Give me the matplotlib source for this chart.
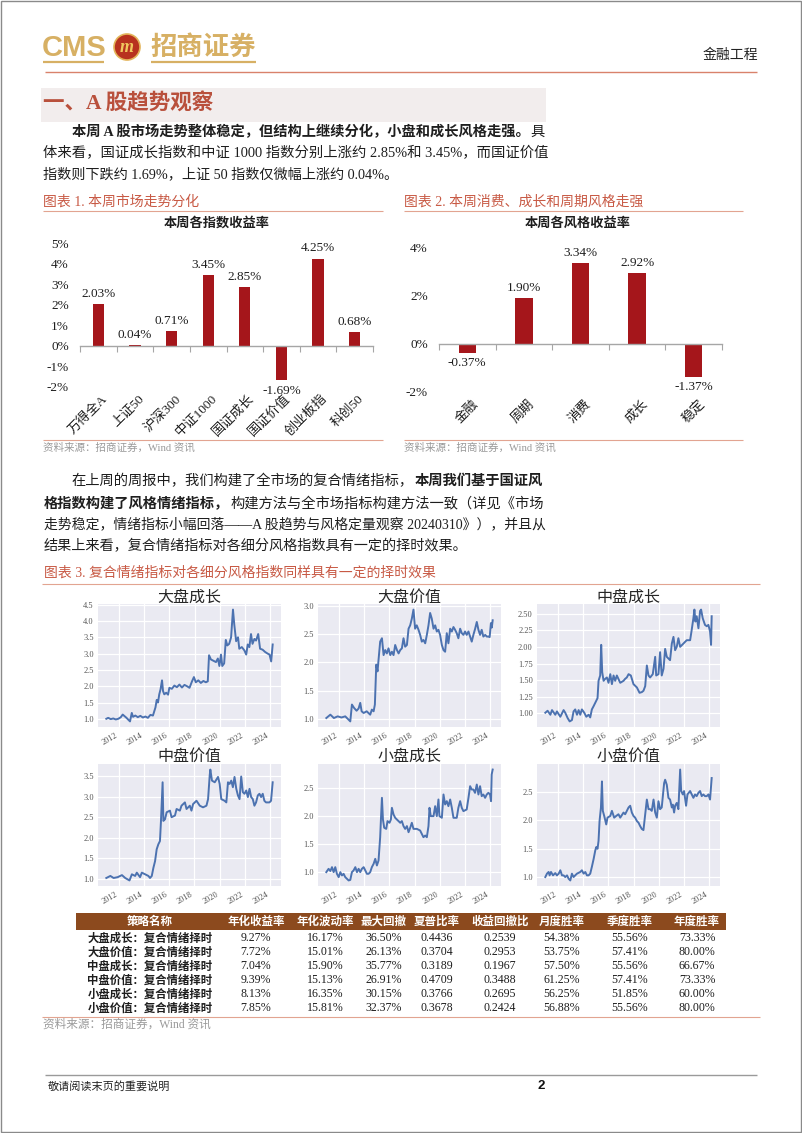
import matplotlib
matplotlib.use('Agg')
import matplotlib.pyplot as plt
from matplotlib.patches import Rectangle, Circle
from matplotlib.ticker import MultipleLocator, FuncFormatter
import matplotlib.transforms as mtransforms

# ---------------- data ----------------
idx_names = ['万得全A', '上证50', '沪深300', '中证1000', '国证成长', '国证价值', '创业板指', '科创50']
idx_returns = [2.03, 0.04, 0.71, 3.45, 2.85, -1.69, 4.25, 0.68]

style_names = ['金融', '周期', '消费', '成长', '稳定']
style_returns = [-0.37, 1.90, 3.34, 2.92, -1.37]

dapan_growth = [(2011.00, 1.00), (2011.15, 1.03), (2011.35, 0.99), (2011.55, 1.01), (2011.75, 0.98), (2011.95, 1.00),
                (2012.15, 1.05), (2012.30, 1.13), (2012.45, 1.08), (2012.60, 1.03), (2012.75, 0.97), (2012.88, 0.92),
                (2013.02, 1.18), (2013.12, 1.06), (2013.30, 1.10), (2013.50, 1.05), (2013.70, 1.09), (2013.90, 1.04),
                (2014.10, 1.07), (2014.30, 1.03), (2014.50, 1.12), (2014.70, 1.10), (2014.90, 1.35), (2015.00, 1.58),
                (2015.10, 1.50), (2015.20, 1.75), (2015.30, 1.90), (2015.42, 2.18), (2015.50, 1.85), (2015.60, 1.75),
                (2015.75, 1.80), (2015.90, 1.74), (2016.00, 1.95), (2016.20, 1.92), (2016.40, 2.02), (2016.60, 1.97),
                (2016.80, 2.05), (2017.00, 1.96), (2017.20, 2.04), (2017.40, 2.00), (2017.60, 1.95), (2017.80, 2.15),
                (2017.95, 2.28), (2018.10, 2.12), (2018.30, 2.18), (2018.50, 2.10), (2018.70, 2.16), (2018.90, 2.12),
                (2019.05, 2.15), (2019.15, 2.95), (2019.30, 2.82), (2019.50, 2.78), (2019.70, 2.74), (2019.85, 2.85),
                (2019.97, 2.62), (2020.10, 2.97), (2020.20, 2.62), (2020.35, 2.70), (2020.48, 3.42), (2020.60, 3.25),
                (2020.75, 3.30), (2020.90, 3.50), (2021.05, 4.35), (2021.15, 3.90), (2021.30, 3.38), (2021.45, 3.50),
                (2021.55, 3.15), (2021.75, 3.20), (2021.95, 3.10), (2022.10, 2.97), (2022.22, 3.28), (2022.35, 3.20),
                (2022.48, 3.60), (2022.60, 3.30), (2022.75, 3.45), (2022.88, 3.40), (2023.05, 3.60), (2023.20, 3.15),
                (2023.40, 3.12), (2023.60, 3.05), (2023.80, 3.00), (2023.95, 2.97), (2024.08, 2.76), (2024.20, 3.28)]

dapan_value = [(2011.00, 1.01), (2011.32, 1.07), (2011.60, 1.01), (2011.90, 1.04), (2012.20, 1.02), (2012.50, 1.04),
               (2012.77, 0.98), (2012.90, 0.95), (2013.03, 1.25), (2013.20, 1.19), (2013.40, 1.14), (2013.56, 1.18),
               (2013.69, 1.28), (2013.80, 1.13), (2013.96, 1.10), (2014.20, 1.13), (2014.48, 1.07), (2014.61, 1.16),
               (2014.75, 1.13), (2014.85, 1.25), (2014.96, 1.96), (2015.06, 1.84), (2015.15, 2.07), (2015.27, 2.37),
               (2015.41, 2.43), (2015.54, 2.13), (2015.67, 2.22), (2015.80, 2.16), (2015.93, 2.25), (2016.07, 2.13),
               (2016.20, 2.19), (2016.33, 2.13), (2016.46, 2.31), (2016.60, 2.22), (2016.73, 2.16), (2016.86, 2.22),
               (2016.99, 2.25), (2017.12, 2.43), (2017.25, 2.28), (2017.39, 2.31), (2017.52, 2.60), (2017.65, 2.66),
               (2017.78, 2.78), (2017.91, 2.94), (2018.04, 2.60), (2018.17, 2.66), (2018.31, 2.58), (2018.44, 2.49),
               (2018.57, 2.37), (2018.70, 2.40), (2018.84, 2.34), (2018.97, 2.49), (2019.10, 2.66), (2019.23, 2.88),
               (2019.36, 2.78), (2019.50, 2.60), (2019.63, 2.66), (2019.76, 2.55), (2019.89, 2.58), (2020.02, 2.49),
               (2020.16, 2.31), (2020.29, 2.22), (2020.42, 2.19), (2020.55, 2.52), (2020.68, 2.34), (2020.82, 2.60),
               (2020.95, 2.55), (2021.08, 2.63), (2021.21, 2.58), (2021.34, 2.52), (2021.47, 2.43), (2021.61, 2.60),
               (2021.74, 2.52), (2021.87, 2.49), (2022.00, 2.55), (2022.13, 2.49), (2022.27, 2.55), (2022.40, 2.46),
               (2022.53, 2.37), (2022.66, 2.49), (2022.80, 2.60), (2022.93, 2.72), (2023.06, 2.58), (2023.19, 2.49),
               (2023.32, 2.58), (2023.45, 2.46), (2023.60, 2.49), (2023.72, 2.46), (2023.85, 2.46), (2023.95, 2.45),
               (2024.05, 2.70), (2024.12, 2.62), (2024.19, 2.75)]

zhongpan_growth = [(2011.00, 1.01), (2011.18, 1.04), (2011.40, 0.98), (2011.53, 1.05), (2011.79, 0.98), (2011.92, 1.03),
                   (2012.19, 0.95), (2012.45, 1.05), (2012.58, 1.01), (2012.77, 0.93), (2012.93, 0.88), (2013.11, 0.90),
                   (2013.24, 1.03), (2013.37, 1.06), (2013.51, 0.98), (2013.64, 1.05), (2013.77, 0.98), (2013.90, 1.06),
                   (2014.09, 1.01), (2014.25, 0.95), (2014.43, 0.98), (2014.56, 0.94), (2014.69, 1.06), (2014.83, 1.11),
                   (2014.96, 1.16), (2015.14, 1.23), (2015.22, 1.49), (2015.35, 1.57), (2015.43, 2.03), (2015.51, 1.62),
                   (2015.62, 1.49), (2015.75, 1.52), (2015.88, 1.54), (2016.01, 1.46), (2016.15, 1.59), (2016.28, 1.44),
                   (2016.41, 1.57), (2016.54, 1.49), (2016.67, 1.57), (2016.94, 1.46), (2017.20, 1.49), (2017.33, 1.52),
                   (2017.46, 1.54), (2017.60, 1.59), (2017.78, 1.57), (2017.99, 1.44), (2018.26, 1.39), (2018.47, 1.31),
                   (2018.65, 1.32), (2018.78, 1.34), (2018.92, 1.41), (2019.05, 1.72), (2019.18, 1.57), (2019.31, 1.54),
                   (2019.52, 1.59), (2019.71, 1.85), (2019.79, 1.57), (2019.97, 1.59), (2020.10, 1.92), (2020.23, 1.57),
                   (2020.37, 1.67), (2020.50, 1.97), (2020.63, 1.85), (2020.89, 1.80), (2021.03, 2.05), (2021.16, 2.15),
                   (2021.29, 1.95), (2021.42, 2.00), (2021.55, 2.13), (2021.69, 2.00), (2021.95, 2.05), (2022.21, 2.10),
                   (2022.48, 2.10), (2022.61, 2.26), (2022.74, 2.43), (2022.82, 2.56), (2022.90, 2.38), (2023.00, 2.46),
                   (2023.14, 2.28), (2023.27, 2.54), (2023.35, 2.56), (2023.48, 2.43), (2023.66, 2.33), (2023.80, 2.31),
                   (2023.93, 2.33), (2024.06, 2.23), (2024.14, 2.03), (2024.19, 2.46)]

zhongpan_value = [(2011.00, 1.02), (2011.32, 1.07), (2011.58, 1.02), (2011.90, 1.04), (2012.24, 1.09), (2012.50, 1.02),
                  (2012.84, 0.96), (2013.03, 1.11), (2013.29, 1.07), (2013.42, 1.15), (2013.68, 1.04), (2013.82, 1.15),
                  (2014.08, 1.11), (2014.34, 1.07), (2014.47, 1.02), (2014.61, 1.07), (2014.74, 1.27), (2014.87, 1.43),
                  (2015.00, 1.72), (2015.13, 1.84), (2015.26, 1.92), (2015.34, 2.41), (2015.47, 3.35), (2015.53, 2.41),
                  (2015.66, 2.45), (2015.79, 2.62), (2016.05, 2.66), (2016.18, 2.50), (2016.45, 2.54), (2016.58, 2.70),
                  (2016.84, 2.66), (2016.97, 2.78), (2017.24, 2.86), (2017.37, 2.70), (2017.63, 2.78), (2017.76, 2.66),
                  (2017.89, 2.82), (2018.16, 2.90), (2018.42, 2.78), (2018.68, 2.74), (2018.95, 2.78), (2019.08, 2.94),
                  (2019.21, 3.52), (2019.26, 3.66), (2019.39, 3.39), (2019.61, 3.35), (2019.87, 3.48), (2020.00, 3.31),
                  (2020.13, 2.94), (2020.39, 2.90), (2020.53, 2.86), (2020.66, 3.35), (2020.79, 3.31), (2020.92, 3.39),
                  (2021.05, 3.23), (2021.18, 3.48), (2021.32, 3.19), (2021.45, 3.03), (2021.58, 2.94), (2021.71, 3.49),
                  (2021.84, 3.11), (2021.97, 3.07), (2022.11, 3.15), (2022.24, 2.99), (2022.37, 3.19), (2022.50, 2.99),
                  (2022.63, 2.94), (2022.76, 2.78), (2022.89, 2.86), (2023.03, 3.03), (2023.16, 3.07), (2023.29, 2.99),
                  (2023.42, 3.07), (2023.55, 2.90), (2023.68, 2.86), (2023.95, 2.86), (2024.08, 2.90), (2024.21, 3.35)]

xiaopan_growth = [(2011.00, 0.99), (2011.18, 1.05), (2011.32, 1.01), (2011.45, 1.08), (2011.58, 0.99), (2011.71, 1.08),
                  (2011.84, 0.96), (2011.98, 0.90), (2012.11, 0.99), (2012.24, 0.93), (2012.37, 0.96), (2012.50, 0.90),
                  (2012.77, 0.84), (2012.90, 0.85), (2013.03, 0.99), (2013.16, 1.02), (2013.30, 1.08), (2013.43, 0.99),
                  (2013.56, 1.05), (2013.69, 0.99), (2013.82, 1.05), (2013.96, 1.08), (2014.09, 1.02), (2014.22, 0.96),
                  (2014.35, 0.96), (2014.48, 0.99), (2014.61, 1.08), (2014.75, 1.14), (2014.88, 1.23), (2015.01, 1.11),
                  (2015.14, 1.20), (2015.27, 1.62), (2015.33, 1.94), (2015.41, 2.33), (2015.49, 1.94), (2015.59, 1.79),
                  (2015.75, 1.77), (2015.85, 1.91), (2016.01, 1.88), (2016.12, 1.94), (2016.20, 2.15), (2016.33, 2.03),
                  (2016.46, 1.97), (2016.59, 1.94), (2016.86, 1.88), (2016.99, 1.91), (2017.12, 1.82), (2017.25, 1.77),
                  (2017.39, 1.82), (2017.52, 1.71), (2017.65, 1.79), (2017.78, 1.88), (2017.91, 1.77), (2018.18, 1.77),
                  (2018.44, 1.74), (2018.57, 1.68), (2018.70, 1.62), (2018.84, 1.65), (2018.97, 1.62), (2019.10, 1.82),
                  (2019.18, 2.15), (2019.28, 2.00), (2019.50, 2.00), (2019.63, 2.18), (2019.76, 2.00), (2019.89, 2.30),
                  (2019.97, 2.00), (2020.16, 1.97), (2020.29, 2.39), (2020.42, 2.21), (2020.55, 2.27), (2020.68, 2.18),
                  (2020.82, 2.30), (2020.95, 2.15), (2021.08, 1.97), (2021.34, 1.97), (2021.47, 2.15), (2021.61, 2.27),
                  (2021.74, 2.15), (2021.87, 2.09), (2022.13, 2.12), (2022.27, 2.33), (2022.40, 2.54), (2022.53, 2.48),
                  (2022.66, 2.48), (2022.79, 2.42), (2022.93, 2.57), (2023.06, 2.39), (2023.19, 2.54), (2023.32, 2.36),
                  (2023.45, 2.39), (2023.59, 2.33), (2023.72, 2.39), (2023.85, 2.42), (2023.98, 2.39), (2024.06, 2.27),
                  (2024.11, 2.75), (2024.19, 2.84)]

xiaopan_value = [(2011.00, 1.00), (2011.13, 1.06), (2011.26, 1.09), (2011.34, 1.03), (2011.45, 1.09), (2011.61, 1.03),
                 (2011.79, 1.07), (2011.92, 1.03), (2012.06, 1.06), (2012.19, 1.12), (2012.32, 1.03), (2012.45, 1.03),
                 (2012.58, 1.00), (2012.72, 1.03), (2012.85, 0.97), (2012.98, 0.94), (2013.11, 1.06), (2013.24, 1.00),
                 (2013.37, 1.03), (2013.51, 1.06), (2013.77, 1.09), (2013.90, 1.12), (2014.04, 1.06), (2014.17, 1.09),
                 (2014.30, 1.03), (2014.43, 1.03), (2014.56, 1.06), (2014.69, 1.18), (2014.83, 1.32), (2014.96, 1.47),
                 (2015.04, 1.53), (2015.14, 1.50), (2015.22, 1.64), (2015.30, 1.99), (2015.41, 2.23), (2015.49, 2.69),
                 (2015.56, 2.17), (2015.67, 2.08), (2015.83, 1.93), (2015.93, 2.05), (2016.15, 2.08), (2016.28, 2.17),
                 (2016.46, 2.05), (2016.62, 2.08), (2016.80, 2.11), (2016.94, 2.05), (2017.20, 2.14), (2017.33, 2.11),
                 (2017.60, 2.23), (2017.73, 2.26), (2017.86, 2.14), (2017.99, 2.08), (2018.12, 2.05), (2018.26, 1.99),
                 (2018.39, 1.96), (2018.52, 1.90), (2018.65, 1.85), (2018.78, 1.83), (2018.92, 2.11), (2019.05, 2.37),
                 (2019.18, 2.20), (2019.31, 2.20), (2019.44, 2.17), (2019.58, 2.37), (2019.71, 2.14), (2019.84, 2.05),
                 (2019.97, 2.34), (2020.10, 2.20), (2020.23, 2.23), (2020.42, 2.66), (2020.50, 2.72), (2020.63, 2.63),
                 (2020.76, 2.40), (2020.89, 2.37), (2021.03, 2.23), (2021.11, 2.28), (2021.21, 2.14), (2021.29, 2.26),
                 (2021.42, 2.31), (2021.55, 2.20), (2021.69, 2.90), (2021.77, 2.52), (2021.90, 2.46), (2022.00, 2.52),
                 (2022.16, 2.26), (2022.27, 2.46), (2022.48, 2.52), (2022.61, 2.46), (2022.74, 2.40), (2022.87, 2.46),
                 (2023.00, 2.43), (2023.14, 2.49), (2023.27, 2.52), (2023.40, 2.43), (2023.53, 2.46), (2023.66, 2.43),
                 (2023.80, 2.43), (2023.93, 2.46), (2024.06, 2.37), (2024.19, 2.75)]

panel_titles = ['大盘成长', '大盘价值', '中盘成长', '中盘价值', '小盘成长', '小盘价值']
panel_series = [dapan_growth, dapan_value, zhongpan_growth, zhongpan_value, xiaopan_growth, xiaopan_value]
panel_ystep = [0.5, 0.5, 0.25, 0.5, 0.5, 0.5]

table_header = ['策略名称', '年化收益率', '年化波动率', '最大回撤', '夏普比率', '收益回撤比', '月度胜率', '季度胜率', '年度胜率']
table_names = ['大盘成长：复合情绪择时', '大盘价值：复合情绪择时', '中盘成长：复合情绪择时',
               '中盘价值：复合情绪择时', '小盘成长：复合情绪择时', '小盘价值：复合情绪择时']
table_values = [['9.27%', '16.17%', '36.50%', '0.4436', '0.2539', '54.38%', '55.56%', '73.33%'],
                ['7.72%', '15.01%', '26.13%', '0.3704', '0.2953', '53.75%', '57.41%', '80.00%'],
                ['7.04%', '15.90%', '35.77%', '0.3189', '0.1967', '57.50%', '55.56%', '66.67%'],
                ['9.39%', '15.13%', '26.91%', '0.4709', '0.3488', '61.25%', '57.41%', '73.33%'],
                ['8.13%', '16.35%', '30.15%', '0.3766', '0.2695', '56.25%', '51.85%', '60.00%'],
                ['7.85%', '15.81%', '32.37%', '0.3678', '0.2424', '56.88%', '55.56%', '80.00%']]

# ---------------- style ----------------
W, H = 802, 1133
SERIF = ['Liberation Serif', 'Noto Sans CJK SC']
CJK = ['Noto Sans CJK SC', 'DejaVu Sans']
plt.rcParams['font.family'] = SERIF
plt.rcParams['axes.unicode_minus'] = False

GOLD = '#D7B064'
CAP = '#C85A45'
LINE = '#E2A491'
BAR = '#A5161B'
TXT = '#1E1E1E'
GRAY = '#9A9A9A'

fig = plt.figure(figsize=(W / 100, H / 100), dpi=100)
ax0 = fig.add_axes([0, 0, 1, 1])
ax0.set_xlim(0, W)
ax0.set_ylim(H, 0)
ax0.axis('off')
R = fig.canvas.get_renderer()


def px(x0, y0, x1, y1):
    return [x0 / W, 1 - y1 / H, (x1 - x0) / W, (y1 - y0) / H]


def hline(x0, x1, y, color=LINE, lw=0.8):
    ax0.plot([x0, x1], [y, y], color=color, lw=lw, solid_capstyle='butt')


GAP = 2.0


def line(x, y, parts, size=10.2, width=None, color=TXT):
    objs = []
    cx = x
    for s, b in parts:
        t = ax0.text(cx, y, s, fontsize=size, fontweight='bold' if b else 'normal',
                     family=SERIF, va='center', ha='left', color=color)
        w = t.get_window_extent(renderer=R).width
        objs.append((t, w))
        cx += w + GAP
    natural = cx - x - GAP
    if width:
        f = width / natural
        if 0.9 < f < 1.1:
            cx = x
            for t, w in objs:
                t.set_fontsize(size * f)
                t.set_x(cx)
                cx += w * f + GAP


# page border
ax0.add_patch(Rectangle((0.5, 0.5), W - 1.5, H - 1.5, fc='none', ec='#8A8A8A', lw=1))

# header
ax0.text(42, 48, 'CMS', fontsize=21, fontweight='bold', color=GOLD, family=['Liberation Sans'],
         va='center', ha='left')
hline(43, 104, 62, GOLD, 1.6)
ax0.add_patch(Circle((127, 47), 13, fc='#B8321F', ec='#E3B45A', lw=1.2))
ax0.text(127, 47.5, 'm', fontsize=13, fontweight='bold', style='italic', color='#F0C75E',
         family=['Liberation Serif'], ha='center', va='center')
ax0.text(150, 47, '招商证券', fontsize=19, fontweight='bold', color=GOLD, family=CJK, va='center', ha='left')
hline(151, 256, 62, GOLD, 1.6)
ax0.text(758, 55, '金融工程', ha='right', va='center', fontsize=10, family=CJK, color='#222222')
hline(45, 757, 72, '#D9826B', 1.0)

# section
ax0.add_patch(Rectangle((41, 88), 505, 34, fc='#F2EDED', ec='none'))
ax0.text(43, 104, '一、A 股趋势观察', fontsize=15.5, fontweight='bold', color='#B9503C', family=SERIF,
         va='center', ha='left')

line(72, 132, [('本周 A 股市场走势整体稳定，但结构上继续分化，小盘和成长风格走强。', True), ('具', False)], width=473)
line(43, 153, [('体来看，国证成长指数和中证 1000 指数分别上涨约 2.85%和 3.45%，而国证价值', False)], width=502)
line(43, 174, [('指数则下跌约 1.69%，上证 50 指数仅微幅上涨约 0.04%。', False)])

# captions chart 1/2
ax0.text(43, 202, '图表 1. 本周市场走势分化', fontsize=10, color=CAP, va='center', ha='left')
hline(43, 383, 211)
ax0.text(217, 223, '本周各指数收益率', fontsize=9.5, fontweight='bold', family=CJK, ha='center', va='center', color=TXT)
hline(43, 383, 440)
ax0.text(43, 448, '资料来源：招商证券，Wind 资讯', fontsize=7.6, color=GRAY, va='center', ha='left')

ax0.text(404, 202, '图表 2. 本周消费、成长和周期风格走强', fontsize=10, color=CAP, va='center', ha='left')
hline(404, 743, 211)
ax0.text(578, 223, '本周各风格收益率', fontsize=9.5, fontweight='bold', family=CJK, ha='center', va='center', color=TXT)
hline(404, 743, 440)
ax0.text(404, 448, '资料来源：招商证券，Wind 资讯', fontsize=7.6, color=GRAY, va='center', ha='left')


def barchart(rect, names, vals, ylim, yticks, label_off):
    ax = fig.add_axes(rect)
    ax.patch.set_alpha(0)
    n = len(names)
    xs = list(range(n))
    ax.bar(xs, vals, width=0.31, color=BAR, zorder=2)
    ax.set_xlim(-0.5, n - 0.5)
    ax.set_ylim(*ylim)
    for s in ['top', 'right', 'left']:
        ax.spines[s].set_visible(False)
    ax.spines['bottom'].set_position(('data', 0))
    ax.spines['bottom'].set_color('#A6A6A6')
    ax.spines['bottom'].set_linewidth(1.0)
    ax.set_xticks([i - 0.5 for i in range(n + 1)])
    ax.tick_params(axis='x', length=4, color='#A6A6A6', labelbottom=False, direction='out')
    ax.set_yticks(yticks)
    ax.yaxis.set_major_formatter(FuncFormatter(lambda v, p: f'{int(round(v))}%'))
    ax.tick_params(axis='y', length=0, labelsize=9.5, pad=8, labelcolor=TXT)
    for i, v in enumerate(vals):
        ax.annotate(f'{v:.2f}%', (i, v), xytext=(0, 3 if v >= 0 else -3), textcoords='offset points',
                    ha='center', va='bottom' if v >= 0 else 'top', fontsize=9.5, color=TXT)
    tr = mtransforms.blended_transform_factory(ax.transData, ax.transAxes)
    for i, s in enumerate(names):
        ax.text(i + 0.08, label_off, s, transform=tr, rotation=45, rotation_mode='anchor',
                ha='right', va='top', fontsize=9.5, color=TXT)
    return ax


barchart(px(80, 243.3, 373, 386.7), idx_names, idx_returns, (-2, 5), list(range(-2, 6)), -0.04)
barchart(px(439, 247, 722, 392), style_names, style_returns, (-2, 4), [-2, 0, 2, 4], -0.04)

# paragraph 2
line(71, 481, [('在上周的周报中，我们构建了全市场的复合情绪指标，', False), ('本周我们基于国证风', True)], width=472)
line(44, 503, [('格指数构建了风格情绪指标，', True), ('构建方法与全市场指标构建方法一致（详见《市场', False)], width=499)
line(44, 524, [('走势稳定，情绪指标小幅回落——A 股趋势与风格定量观察 20240310》），并且从', False)], width=499)
line(44, 546, [('结果上来看，复合情绪指标对各细分风格指数具有一定的择时效果。', False)])

ax0.text(44, 573, '图表 3. 复合情绪指标对各细分风格指数同样具有一定的择时效果', fontsize=10, color=CAP,
         va='center', ha='left')
hline(42, 760, 584)

# small panels
boxes = [(98, 604, 281, 727), (318, 604, 501, 727), (537, 604, 720, 727),
         (98, 764, 281, 886), (318, 764, 501, 886), (537, 764, 720, 886)]
title_y = [597, 597, 597, 756, 756, 756]
for k in range(6):
    x0, y0, x1, y1 = boxes[k]
    ax = fig.add_axes(px(x0, y0, x1, y1))
    ax.set_facecolor('#EAEAF2')
    for s in ax.spines.values():
        s.set_visible(False)
    ax.grid(True, color='white', lw=0.9)
    ax.set_axisbelow(True)
    xs = [p[0] for p in panel_series[k]]
    ys = [p[1] for p in panel_series[k]]
    ax.plot(xs, ys, color='#4C72B0', lw=1.4)
    ax.xaxis.set_major_locator(MultipleLocator(2))
    ax.xaxis.set_major_formatter(FuncFormatter(lambda v, p: f'{int(round(v))}'))
    ax.yaxis.set_major_locator(MultipleLocator(panel_ystep[k]))
    if panel_ystep[k] < 0.5:
        ax.yaxis.set_major_formatter(FuncFormatter(lambda v, p: f'{v:.2f}'))
    else:
        ax.yaxis.set_major_formatter(FuncFormatter(lambda v, p: f'{v:.1f}'))
    ax.tick_params(length=0, labelsize=6, labelcolor='#555555', pad=3)
    for lab in ax.get_xticklabels():
        lab.set_rotation(30)
        lab.set_ha('right')
    ax0.text((x0 + x1) / 2, title_y[k], panel_titles[k], fontsize=11.5, family=CJK, color='#262626',
             ha='center', va='center')

# table
cols_x = [150, 256, 325, 384, 437, 500, 562, 630, 697]
ax0.add_patch(Rectangle((76, 913), 650, 17, fc='#8C4A1E', ec='none'))
for cx, h in zip(cols_x, table_header):
    ax0.text(cx, 921.5, h, fontsize=8.3, fontweight='bold', family=CJK, color='white', ha='center', va='center')
for r, (name, vals) in enumerate(zip(table_names, table_values)):
    y = 938 + 14 * r
    ax0.text(cols_x[0], y, name, fontsize=8.2, fontweight='bold', family=CJK, color=TXT, ha='center', va='center')
    for cx, v in zip(cols_x[1:], vals):
        ax0.text(cx, y, v, fontsize=8.6, color=TXT, ha='center', va='center')
hline(42, 760, 1017)
ax0.text(43, 1025, '资料来源：招商证券，Wind 资讯', fontsize=8.4, color=GRAY, va='center', ha='left')

# footer
hline(45, 757, 1075, '#9A9A9A', 1.0)
ax0.text(48, 1086, '敬请阅读末页的重要说明', fontsize=8, family=CJK, color='#222222', va='center', ha='left')
ax0.text(541, 1086, '2', fontsize=9.5, fontweight='bold', family=['Liberation Sans'], color='#111111',
         va='center', ha='center')

fig.savefig('out.png', dpi=100)
